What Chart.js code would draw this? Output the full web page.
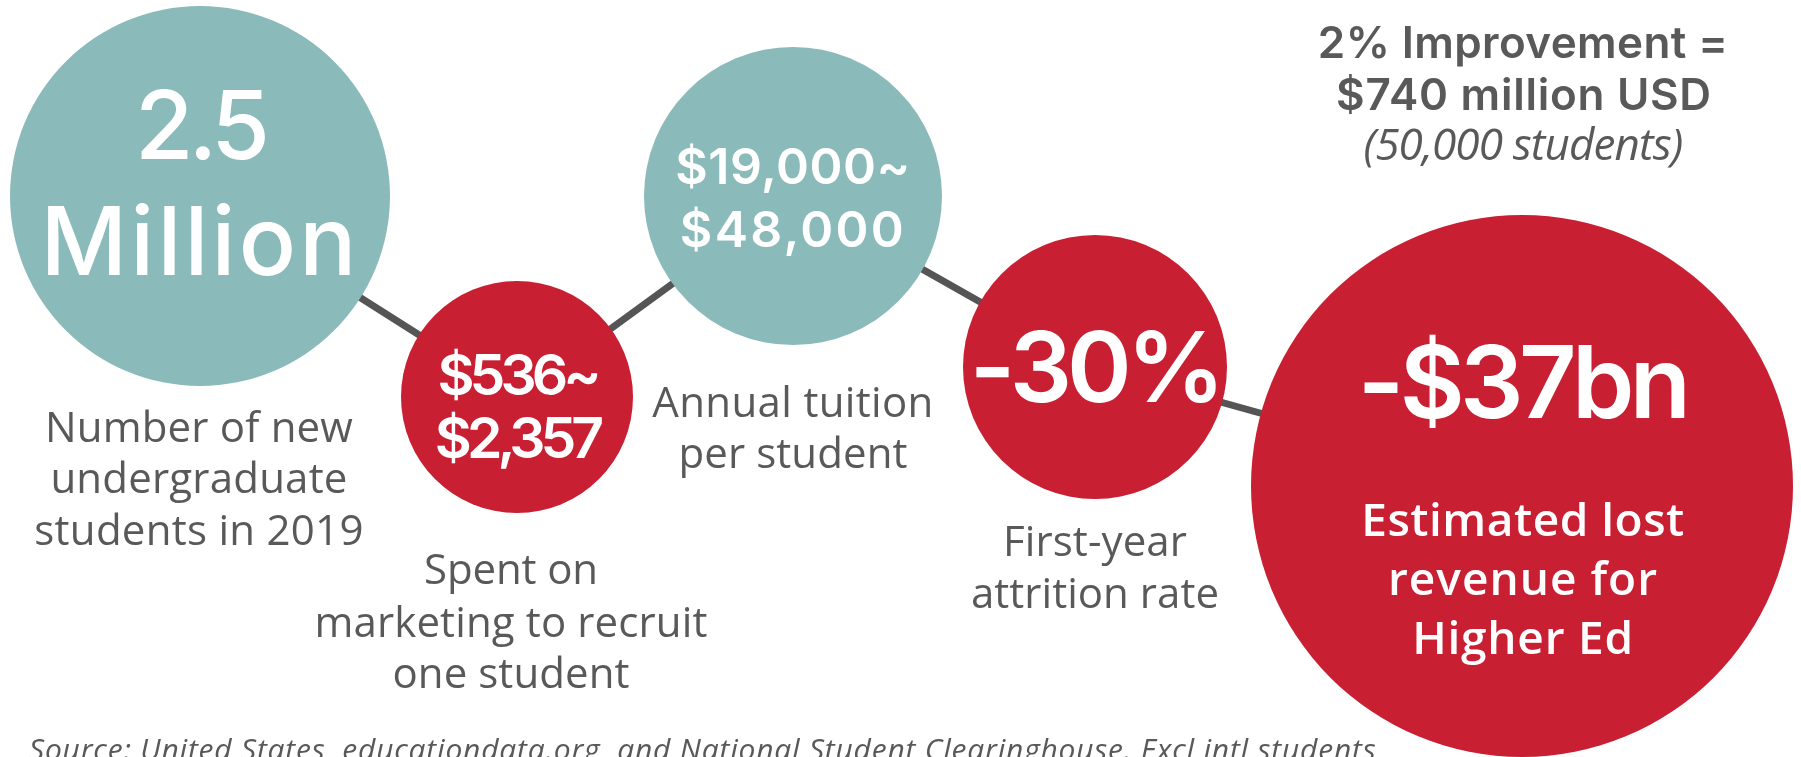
<!DOCTYPE html>
<html>
<head>
<meta charset="utf-8">
<title>Higher Ed first-year attrition</title>
<script src="https://cdn.jsdelivr.net/npm/chart.js@4.4.1/dist/chart.umd.min.js"></script>
<style>
  html, body { margin: 0; padding: 0; background: #fff; }
  #wrap { width: 1801px; height: 757px; position: relative; overflow: hidden; }
</style>
</head>
<body>
<div id="wrap"><canvas id="bubbleChart"></canvas></div>
<script>
// Figures printed inside each circle
var figures = [
    ['2.5', 'Million'],
    ['$536~', '$2,357'],
    ['$19,000~', '$48,000'],
    ['-30%'],
    ['-$37bn']
];

// What each figure stands for
var captions = [
    ['Number of new', 'undergraduate', 'students in 2019'],
    ['Spent on', 'marketing to recruit', 'one student'],
    ['Annual tuition', 'per student'],
    ['First-year', 'attrition rate'],
    ['Estimated lost', 'revenue for', 'Higher Ed']
];

// Step values on the hidden x / y axes and bubble sizes
var stepX = [200, 517, 793, 1095, 1522];
var stepY = [196, 397, 196, 367, 486];
var bubbleR = [190, 116, 149, 132, 271];
var kind = ['volume', 'cost', 'volume', 'cost', 'cost'];

var headline = ['2% Improvement =', '$740 million USD'];
var headlineNote = '(50,000 students)';
var source = 'Source: United States, educationdata.org, and National Student Clearinghouse. Excl intl students';

var TEAL = 'rgb(138, 186, 185)';
var RED = 'rgb(201, 31, 51)';
var GREY = '#595959';

// draw text, nudging the letter spacing so it fills the width
function fitText(ctx, text, x, y, target) {
    ctx.letterSpacing = '0px';
    if (target && text.length > 1) {
        var w = ctx.measureText(text).width;
        var sp = (target - w) / (text.length - 1);
        sp = Math.max(-5, Math.min(5, sp));
        ctx.letterSpacing = sp.toFixed(2) + 'px';
    }
    ctx.fillText(text, x, y);
    ctx.letterSpacing = '0px';
}

var labelPlugin = {
    id: 'labels',
    afterDatasetsDraw: function (chart) {
        var ctx = chart.ctx;
        var pts = chart.getDatasetMeta(0).data;
        var big = [
            { size: 95, weight: 500, dy: [-37, 79], w: [133, 316] },
            { size: 57, weight: 600, dy: [-2, 61], w: [157, 168] },
            { size: 50, weight: 600, dy: [-12, 51], w: [235, 224] },
            { size: 98, weight: 600, dy: [35], w: [231] },
            { size: 100, weight: 600, dy: [-68], w: [333] }
        ];
        var sub = [
            { dx: -1, dy: [246, 297, 349], w: [308, 297, 329] },
            { dx: -6, dy: [187, 240, 291], w: [174, 393, 237] },
            { dx: 0, dy: [221, 272], w: [281, 229] },
            { dx: 0, dy: [189, 241], w: [184, 248] },
            { dx: 1, dy: [50, 109, 168], w: [323, 269, 221] }
        ];
        ctx.save();
        ctx.textAlign = 'center';
        ctx.textBaseline = 'alphabetic';
        pts.forEach(function (p, i) {
            var b = big[i];
            ctx.fillStyle = '#fff';
            ctx.font = b.weight + ' ' + b.size + 'px Inter, "Noto Sans", sans-serif';
            figures[i].forEach(function (t, j) {
                fitText(ctx, t, p.x, p.y + b.dy[j], b.w[j]);
            });
            var s = sub[i];
            var inside = i === 4;
            ctx.fillStyle = inside ? '#fff' : GREY;
            ctx.font = (inside ? '600 46px' : '400 42px') + ' "Open Sans", sans-serif';
            captions[i].forEach(function (t, j) {
                fitText(ctx, t, p.x + s.dx, p.y + s.dy[j], s.w[j]);
            });
        });

        // headline on the upper right
        ctx.fillStyle = GREY;
        ctx.font = '600 44px Inter, "Noto Sans", sans-serif';
        fitText(ctx, headline[0], 1523, 58, 410);
        fitText(ctx, headline[1], 1524, 110, 375);
        ctx.font = 'italic 400 44px "Open Sans", sans-serif';
        fitText(ctx, headlineNote, 1523, 160, 320);

        // source line, cut by the bottom edge
        ctx.textAlign = 'left';
        ctx.font = 'italic 400 30px "Open Sans", sans-serif';
        fitText(ctx, source, 29, 760, 1347);
        ctx.restore();
    }
};

var ctx = document.getElementById('bubbleChart').getContext('2d');

var points = stepX.map(function (x, i) {
    return { x: x, y: stepY[i], r: bubbleR[i] };
});

var myChart = new Chart(ctx, {
    type: 'bubble',
    data: {
        datasets: [{
            data: points,
            backgroundColor: kind.map(function (k) { return k === 'volume' ? TEAL : RED; }),
            borderWidth: 0,
            clip: false
        }, {
            type: 'line',
            data: points.map(function (p) { return { x: p.x, y: p.y }; }),
            borderColor: '#555555',
            borderWidth: 7,
            pointRadius: 0,
            tension: 0,
            fill: false,
            clip: false
        }]
    },
    options: {
        responsive: true,
        maintainAspectRatio: false,
        animation: false,
        devicePixelRatio: 1,
        events: [],
        layout: { padding: 0, autoPadding: false },
        plugins: {
            legend: { display: false },
            tooltip: { enabled: false }
        },
        scales: {
            x: { display: false, min: 0, max: 1801 },
            y: { display: false, min: 0, max: 757, reverse: true }
        }
    },
    plugins: [labelPlugin]
});
</script>
</body>
</html>
